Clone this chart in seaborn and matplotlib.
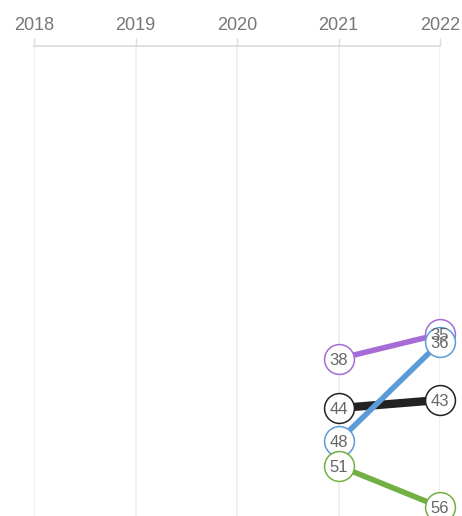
import numpy as np
import pandas as pd
import matplotlib
matplotlib.use("Agg")
import matplotlib.pyplot as plt
import seaborn as sns

# Rank per year for each series (lower rank = higher on the chart)
years = [2018, 2019, 2020, 2021, 2022]
series_names = ["Purple", "Black", "Blue", "Green"]
rank_purple = [None, None, None, 38, 35]
rank_black = [None, None, None, 44, 43]
rank_blue = [None, None, None, 48, 36]
rank_green = [None, None, None, 51, 56]
colors = ["#a66bd6", "#222222", "#5b9bd8", "#72b043"]
widths = [4, 6, 4, 4]

ranks = [rank_purple, rank_black, rank_blue, rank_green]
rows = []
for name, vals in zip(series_names, ranks):
    for y, v in zip(years, vals):
        if v is not None:
            rows.append({"year": y, "rank": v, "series": name})
df = pd.DataFrame(rows)

sns.set_style("white")
plt.rcParams["font.family"] = ["Liberation Sans", "DejaVu Sans"]

fig = plt.figure(figsize=(4.62, 5.16), dpi=100)
ax = fig.add_axes([34 / 462, 0, 406 / 462, 1 - 46 / 516])

# connecting lines
for name, col, lw in zip(series_names, colors, widths):
    sub = df[df["series"] == name]
    sns.lineplot(data=sub, x="year", y="rank", color=col, linewidth=lw,
                 ax=ax, legend=False, zorder=2, solid_capstyle="butt")

# circular rank badges, with the rank numbers drawn above every circle
for i, (name, col) in enumerate(zip(series_names, colors)):
    sub = df[df["series"] == name]
    ax.scatter(sub["year"], sub["rank"], s=21.5 ** 2, facecolor="white",
               edgecolor=col, linewidth=1.1, zorder=3 + i, clip_on=False)
for _, r in df.iterrows():
    ax.text(r["year"], r["rank"], f"{int(r['rank'])}", ha="center",
            va="center_baseline", fontsize=12, color="#666666",
            zorder=10, clip_on=False)

ax.set_xlim(2018, 2022)
ax.set_ylim(57.1, 0)
ax.set_xticks(years)
ax.set_xticklabels([str(y) for y in years])
ax.set_yticks([])
ax.set_xlabel("")
ax.set_ylabel("")
ax.xaxis.tick_top()
ax.xaxis.set_label_position("top")
ax.tick_params(axis="x", top=True, bottom=False, direction="out", length=6,
               width=1, color="#dddddd", labelsize=13, labelcolor="#777777", pad=3)
ax.grid(axis="x", color="#eeeeee", linewidth=1.3)
ax.set_axisbelow(True)
for side in ["left", "right", "bottom"]:
    ax.spines[side].set_visible(False)
ax.spines["top"].set_color("#dddddd")
ax.spines["top"].set_linewidth(1.3)

fig.savefig("out.png", dpi=100)
